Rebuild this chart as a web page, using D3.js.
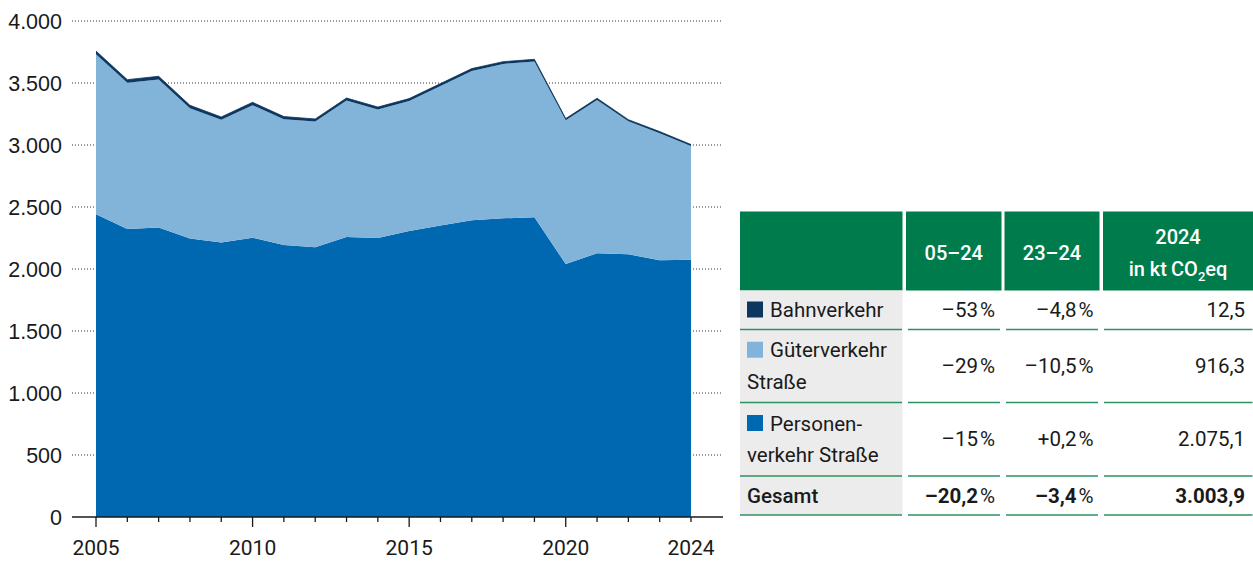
<!DOCTYPE html>
<html>
<head>
<meta charset="utf-8">
<script src="https://cdn.jsdelivr.net/npm/d3@7"></script>
<style>
  body { margin: 0; background: #fff; }
  svg { display: block; }
</style>
</head>
<body>
<svg id="chart" width="1253" height="561"></svg>
<script>
// years and series (kt CO2eq)
const years = d3.range(2005, 2025);
const personen = [2441, 2323, 2334, 2245, 2213, 2253, 2194, 2175, 2258, 2250,
                  2306, 2350, 2393, 2409, 2417, 2040, 2127, 2119, 2071, 2075.1];
const gueter   = [1290, 1179, 1195, 1051, 991, 1068, 1013, 1014, 1100, 1036,
                  1048, 1126, 1204, 1245, 1257, 1159, 1236, 1072, 1024, 916.3];
const bahn     = [26.6, 25, 25, 24, 22, 23, 22, 21, 21, 20,
                  20, 19, 19, 18, 17, 14, 14, 13.5, 13.1, 12.5];

const yTicks = [0, 500, 1000, 1500, 2000, 2500, 3000, 3500, 4000];
const xLabels = [2005, 2010, 2015, 2020, 2024];

const seriesKeys = ["personen", "gueter", "bahn"];
const colors = { personen: "#0067b1", gueter: "#82b3d8", bahn: "#0b3760" };

// table content
const tableHead = ["05–24", "23–24"];
const tableRows = [
  { key: "bahn", label: ["Bahnverkehr"], c1: "–53 %", c2: "–4,8 %", c3: "12,5" },
  { key: "gueter", label: ["Güterverkehr", "Straße"], c1: "–29 %", c2: "–10,5 %", c3: "916,3" },
  { key: "personen", label: ["Personen-", "verkehr Straße"], c1: "–15 %", c2: "+0,2 %", c3: "2.075,1" },
  { key: null, label: ["Gesamt"], c1: "–20,2 %", c2: "–3,4 %", c3: "3.003,9", bold: true }
];

const svg = d3.select("#chart");
const tfont = "Roboto, 'Noto Sans', sans-serif";

// ---- chart ----
const x = d3.scaleLinear().domain([2005, 2024]).range([96, 691]);
const y = d3.scaleLinear().domain([0, 4000]).range([517, 21]);

const data = years.map((yr, i) => ({ year: yr, personen: personen[i], gueter: gueter[i], bahn: bahn[i] }));
const stacked = d3.stack().keys(seriesKeys)(data);

// dotted grid
svg.append("g")
  .selectAll("line")
  .data(yTicks.filter(d => d > 0))
  .join("line")
    .attr("x1", 72).attr("x2", 723)
    .attr("y1", d => y(d)).attr("y2", d => y(d))
    .attr("stroke", "#333")
    .attr("stroke-width", 1)
    .attr("stroke-dasharray", "1,2");

const area = d3.area()
  .x(d => x(d.data.year))
  .y0(d => y(d[0]))
  .y1(d => y(d[1]));

svg.append("g")
  .selectAll("path")
  .data(stacked)
  .join("path")
    .attr("fill", d => colors[d.key])
    .attr("d", area);

// thin edge on top of the rail layer so it stays visible
svg.append("path")
  .datum(stacked[2])
  .attr("fill", "none")
  .attr("stroke", colors.bahn)
  .attr("stroke-width", 0.8)
  .attr("d", d3.line().x(d => x(d.data.year)).y(d => y(d[1])));

// y labels
svg.append("g")
  .selectAll("text")
  .data(yTicks)
  .join("text")
    .attr("x", 62)
    .attr("y", d => y(d))
    .attr("dy", "0.36em")
    .attr("text-anchor", "end")
    .attr("font-family", "'Liberation Sans', Arial, sans-serif")
    .attr("font-size", 21.5)
    .attr("fill", "#1a1a1a")
    .text(d => d3.format(",")(d).replace(/,/g, "."));

// x axis
const xg = svg.append("g").attr("stroke", "#1a1a1a");
xg.append("line")
  .attr("x1", 72).attr("x2", 723)
  .attr("y1", 517).attr("y2", 517)
  .attr("stroke-width", 1.3);
xg.selectAll("line.tick")
  .data(years)
  .join("line")
    .attr("class", "tick")
    .attr("x1", d => x(d)).attr("x2", d => x(d))
    .attr("y1", 517)
    .attr("y2", d => (d % 5 === 0 ? 527 : 522))
    .attr("stroke-width", 1.3);

svg.append("g")
  .selectAll("text")
  .data(xLabels)
  .join("text")
    .attr("x", d => x(d))
    .attr("y", 555)
    .attr("text-anchor", "middle")
    .attr("font-family", tfont)
    .attr("font-size", 21)
    .attr("fill", "#1a1a1a")
    .text(d => d);

// ---- table ----
const cols = [
  { x0: 740, x1: 902.5 },
  { x0: 906, x1: 1001.5 },
  { x0: 1004.5, x1: 1099.5 },
  { x0: 1103, x1: 1253 }
];
const green = "#007c4c";
const tg = svg.append("g").attr("font-family", tfont);

// header
tg.selectAll("rect.head")
  .data(cols)
  .join("rect")
    .attr("class", "head")
    .attr("x", d => d.x0).attr("y", 211.5)
    .attr("width", d => d.x1 - d.x0).attr("height", 79)
    .attr("fill", green);

tg.selectAll("text.head")
  .data(tableHead)
  .join("text")
    .attr("class", "head")
    .attr("x", (d, i) => (cols[i + 1].x0 + cols[i + 1].x1) / 2)
    .attr("y", 260)
    .attr("text-anchor", "middle")
    .attr("font-size", 20)
    .attr("font-weight", 500)
    .attr("fill", "#fff")
    .text(d => d);

const c4mid = (cols[3].x0 + cols[3].x1) / 2;
tg.append("text")
  .attr("x", c4mid).attr("y", 244)
  .attr("text-anchor", "middle")
  .attr("font-size", 20).attr("font-weight", 500).attr("fill", "#fff")
  .text("2024");
const unit = tg.append("text")
  .attr("x", c4mid).attr("y", 276)
  .attr("text-anchor", "middle")
  .attr("font-size", 20).attr("font-weight", 500).attr("fill", "#fff");
unit.append("tspan").text("in kt\u2009CO");
unit.append("tspan").attr("font-size", 13).attr("dy", 5).text("2");
unit.append("tspan").attr("dy", -5).text("eq");

// rows
const rowBounds = [[290.5, 329.5], [329.5, 402.5], [402.5, 476], [476, 515]];
tg.append("rect")
  .attr("x", cols[0].x0).attr("y", 290.5)
  .attr("width", cols[0].x1 - cols[0].x0).attr("height", 515 - 290.5)
  .attr("fill", "#ececec");

tableRows.forEach((r, i) => {
  const [top, bot] = rowBounds[i];
  const mid = (top + bot) / 2;
  const lh = 31.5;
  const n = r.label.length;
  const firstBase = mid - (n - 1) * lh / 2 + 7;

  if (r.key) {
    tg.append("rect")
      .attr("x", 747).attr("y", firstBase - 15.5)
      .attr("width", 16).attr("height", 16)
      .attr("fill", colors[r.key]);
  }
  r.label.forEach((t, j) => {
    tg.append("text")
      .attr("x", j === 0 && r.key ? 770 : 747)
      .attr("y", firstBase + j * lh)
      .attr("font-size", 20.5)
      .attr("font-weight", r.bold ? 500 : 400)
      .attr("fill", "#1a1a1a")
      .text(t);
  });

  const vals = [r.c1, r.c2, r.c3];
  const rights = [995, 1093.5, 1245];
  vals.forEach((v, k) => {
    const t = tg.append("text")
      .attr("x", rights[k]).attr("y", mid + 7)
      .attr("text-anchor", "end")
      .attr("font-size", 20.5)
      .attr("fill", "#1a1a1a");
    const parts = v.split(" ");
    t.append("tspan").attr("font-weight", r.bold ? 700 : 400).text(parts[0]);
    if (parts[1]) t.append("tspan").attr("dx", 2).attr("font-weight", 400).text(parts[1]);
  });

  // separators under each row
  const seg = [[740, 902], [908, 1000], [1006, 1098], [1104, 1252.5]];
  tg.selectAll(null)
    .data(seg)
    .join("line")
      .attr("x1", d => d[0]).attr("x2", d => d[1])
      .attr("y1", bot).attr("y2", bot)
      .attr("stroke", "#2e9163")
      .attr("stroke-width", 1.5);
});
</script>
</body>
</html>
